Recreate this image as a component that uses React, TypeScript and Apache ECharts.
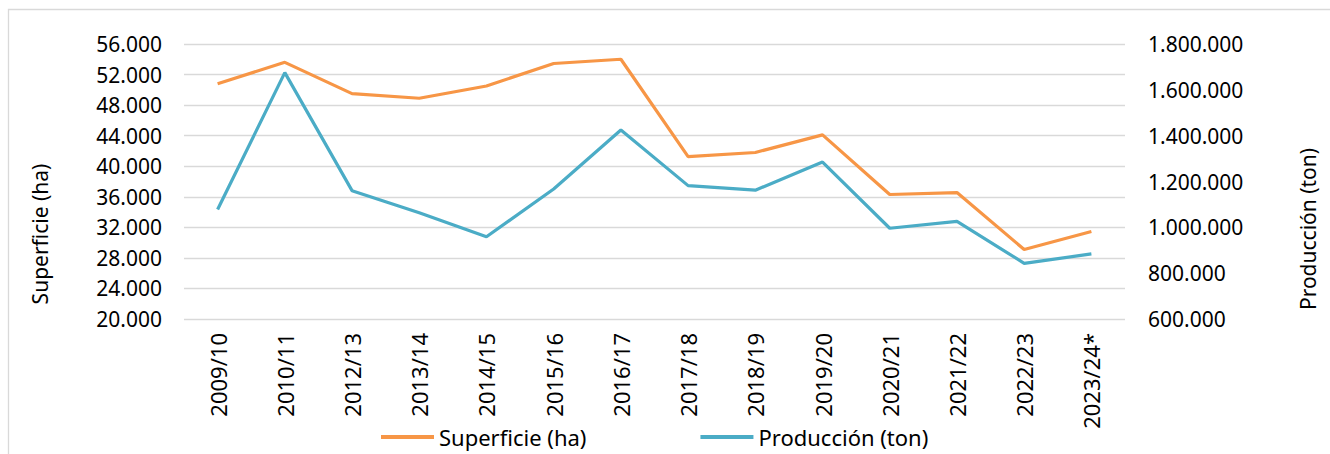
import React, { useEffect, useRef } from "react";
import * as echarts from "echarts";

const categories = [
  "2009/10", "2010/11", "2012/13", "2013/14", "2014/15", "2015/16", "2016/17",
  "2017/18", "2018/19", "2019/20", "2020/21", "2021/22", "2022/23", "2023/24*",
];
const superficie = [50800, 53600, 49500, 48900, 50500, 53450, 54000, 41250, 41800, 44100, 36300, 36550, 29100, 31450];
const produccion = [1078000, 1675000, 1160000, 1064000, 959000, 1167000, 1425000, 1182000, 1162000, 1285000, 996000, 1026000, 843000, 884000];

const leftName = "Superficie (ha)";
const rightName = "Producción (ton)";

const FONT = '"Noto Sans", "Open Sans", sans-serif';
const fmt = (v: number) => String(v).replace(/\B(?=(\d{3})+(?!\d))/g, ".");

export default function App() {
  const ref = useRef<HTMLDivElement>(null);
  useEffect(() => {
    if (!ref.current) return;
    const chart = echarts.init(ref.current, undefined, { renderer: "svg" });
    chart.setOption({
      animation: false,
      backgroundColor: "#ffffff",
      textStyle: { fontFamily: FONT },
      grid: { left: 184, right: 205, top: 44, bottom: 135, containLabel: false },
      legend: {
        left: 381,
        top: 426,
        padding: 0,
        itemWidth: 53,
        itemHeight: 4,
        itemGap: 114,
        icon: "rect",
        textStyle: { fontFamily: FONT, fontSize: 22, lineHeight: 22, color: "#000" },
        data: [leftName, rightName],
      },
      xAxis: {
        type: "category",
        data: categories,
        boundaryGap: true,
        axisLine: { show: false },
        axisTick: { show: false },
        axisLabel: { rotate: 90, margin: 14, fontFamily: FONT, fontSize: 22, color: "#000", interval: 0 },
        splitLine: { show: false },
      },
      yAxis: [
        {
          type: "value",
          min: 20000,
          max: 56000,
          interval: 4000,
          axisLine: { show: false },
          axisTick: { show: false },
          axisLabel: { margin: 22, fontFamily: FONT, fontSize: 21, color: "#000", formatter: fmt },
          splitLine: { show: true, lineStyle: { color: "#d9d9d9", width: 1.3 } },
        },
        {
          type: "value",
          min: 600000,
          max: 1800000,
          interval: 200000,
          position: "right",
          axisLine: { show: false },
          axisTick: { show: false },
          axisLabel: { margin: 23, fontFamily: FONT, fontSize: 21, color: "#000", formatter: fmt },
          splitLine: { show: false },
        },
      ],
      series: [
        {
          name: leftName,
          type: "line",
          yAxisIndex: 0,
          data: superficie,
          symbol: "none",
          lineStyle: { color: "#F79646", width: 3.2 },
          itemStyle: { color: "#F79646" },
        },
        {
          name: rightName,
          type: "line",
          yAxisIndex: 1,
          data: produccion,
          symbol: "none",
          lineStyle: { color: "#4BACC6", width: 3.2 },
          itemStyle: { color: "#4BACC6" },
        },
      ],
      graphic: [
        {
          type: "rect",
          shape: { x: 8.5, y: 9.5, width: 1400, height: 600 },
          style: { fill: "none", stroke: "#d9d9d9", lineWidth: 1.3 },
          silent: true,
        },
        {
          type: "text",
          x: 40,
          y: 234,
          rotation: Math.PI / 2,
          style: { text: leftName, font: `21px ${FONT}`, fill: "#000", textAlign: "center", textVerticalAlign: "middle" },
        },
        {
          type: "text",
          x: 1308,
          y: 229,
          rotation: Math.PI / 2,
          style: { text: rightName, font: `21px ${FONT}`, fill: "#000", textAlign: "center", textVerticalAlign: "middle" },
        },
      ],
    });
    return () => chart.dispose();
  }, []);
  return <div ref={ref} style={{ position: "fixed", left: 0, top: 0, width: 1330, height: 454 }} />;
}
